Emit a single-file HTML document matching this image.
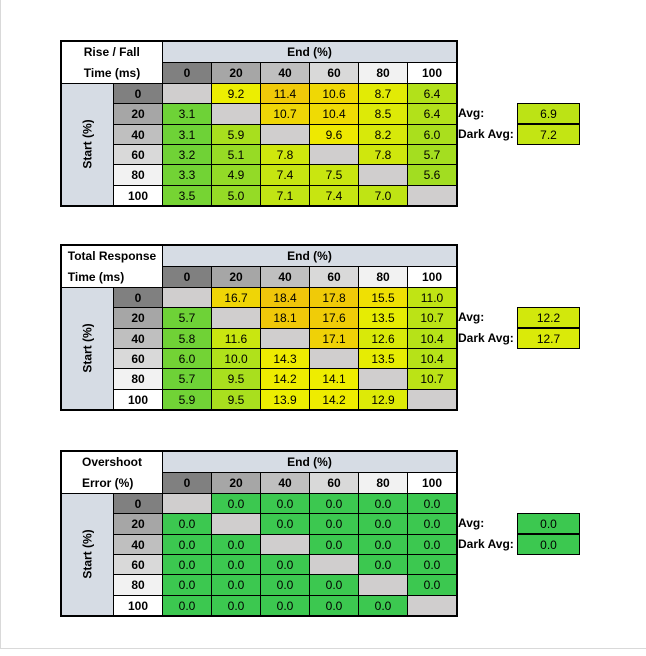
<!DOCTYPE html>
<html><head><meta charset="utf-8">
<style>
body{margin:0;width:646px;height:656px;background:#fff;position:relative;overflow:hidden;font-family:"Liberation Sans",Arial,sans-serif;}
.c{position:absolute;box-sizing:border-box;border:1px solid #000;display:flex;align-items:center;justify-content:center;font-size:12px;color:#000;}
.b{font-weight:bold;}
.frame{position:absolute;box-sizing:border-box;border:2px solid #000;pointer-events:none;}
.lbl{position:absolute;font-size:12px;font-weight:bold;}
</style></head>
<body>
<div style="position:absolute;left:0;top:0;width:646px;height:649px;border-left:1px solid #d9d9d9;border-bottom:1px solid #d9d9d9;box-sizing:border-box"></div>
<script>
const colLabels=["0","20","40","60","80","100"];
const rowLabels=["0","20","40","60","80","100"];
const riseFall=[[null,9.2,11.4,10.6,8.7,6.4],[3.1,null,10.7,10.4,8.5,6.4],[3.1,5.9,null,9.6,8.2,6.0],[3.2,5.1,7.8,null,7.8,5.7],[3.3,4.9,7.4,7.5,null,5.6],[3.5,5.0,7.1,7.4,7.0,null]];
const riseFallAvg=[6.9,7.2];
const totalResp=[[null,16.7,18.4,17.8,15.5,11.0],[5.7,null,18.1,17.6,13.5,10.7],[5.8,11.6,null,17.1,12.6,10.4],[6.0,10.0,14.3,null,13.5,10.4],[5.7,9.5,14.2,14.1,null,10.7],[5.9,9.5,13.9,14.2,12.9,null]];
const totalAvg=[12.2,12.7];
const overshoot=[[null,0,0,0,0,0],[0,null,0,0,0,0],[0,0,null,0,0,0],[0,0,0,null,0,0],[0,0,0,0,null,0],[0,0,0,0,0,null]];
const overshootAvg=[0.0,0.0];
const avgLabels=["Avg:","Dark Avg:"];
const headGrays=["#808080","#a6a6a6","#bfbfbf","#d9d9d9","#f2f2f2","#ffffff"];

function lerp(a,b,t){return a.map((x,i)=>Math.round(x+(b[i]-x)*t));}
function scaleColor(v,lo,mid,hi){
  const g=[110,210,55],y=[238,238,0],o=[240,195,10];
  if(lo===hi) return "rgb(60,200,80)";
  let c;
  if(v<=mid) c=lerp(g,y,Math.max(0,(v-lo)/(mid-lo)));
  else c=lerp(y,o,Math.min(1,(v-mid)/(hi-mid)));
  return "rgb("+c.join(",")+")";
}
function cell(x,y,w,h,txt,bg,bold,name){
  const d=document.createElement('div');
  d.className='c'+(bold?' b':'');
  d.style.cssText+=`left:${x}px;top:${y}px;width:${w+1}px;height:${h+1}px;background:${bg};`;
  d.textContent=txt;
  
  
  document.body.appendChild(d);return d;
}
function table(top,title1,title2,data,avg,lo,mid,hi,prefix){
  const L=61,RH=113,C0=162,CW=49,HH=21,RHt=20.3;
  const dataTop=top+2*HH;
  const t=cell(L,top,RH+49-L-0,2*HH,"","#fff",true,prefix+'-title');
  t.style.flexDirection='column';t.style.lineHeight='21px';
  t.innerHTML=title1+"<br>"+title2;
  cell(C0,top,CW*6,HH,"End (%)","#d6dce4",true,prefix+'-end-header');
  colLabels.forEach((c,i)=>cell(C0+i*CW,top+HH,CW,HH,c,headGrays[i],true,prefix+'-col-'+c));
  const s=cell(L,dataTop,RH-L,RHt*6,"","#d6dce4",true,prefix+'-start-header');
  s.innerHTML='<span style="transform:rotate(-90deg);white-space:nowrap;display:inline-block">Start (%)</span>';
  rowLabels.forEach((r,j)=>{
    const y=Math.round(dataTop+j*RHt),h=Math.round(dataTop+(j+1)*RHt)-y;
    cell(RH,y,C0-RH,h,r,headGrays[j],true,prefix+'-row-'+r);
    data[j].forEach((v,i)=>{
      const bg=v===null?"#d0cece":scaleColor(v,lo,mid,hi);
      cell(C0+i*CW,y,CW,h,v===null?"":v.toFixed(1),bg,false,prefix+'-cell-'+r+'-'+colLabels[i]);
    });
  });
  const f=document.createElement('div');f.className='frame';
  f.style.cssText+=`left:${L-1}px;top:${top-1}px;width:${C0+6*CW-L+3}px;height:${2*HH+6*RHt+3}px;`;
  
  
  document.body.appendChild(f);
  const ay=dataTop+RHt;
  avg.forEach((a,k)=>{
    const y=Math.round(ay+k*RHt);
    const lb=document.createElement('div');lb.className='lbl';
    lb.style.cssText+=`left:458px;top:${y+3}px;`;
    lb.textContent=avgLabels[k];
    
    
    document.body.appendChild(lb);
    cell(517,y,62,20,a.toFixed(1),a===0&&lo===hi?"rgb(60,200,80)":scaleColor(a,lo,mid,hi),false,prefix+'-avg-value-'+k);
  });
}
table(41,"Rise / Fall","Time (ms)",riseFall,riseFallAvg,3.1,9.3,11.8,'rise-fall');
table(245,"Total Response","Time (ms)",totalResp,totalAvg,5.7,14.0,18.6,'total-response');
table(451,"Overshoot","Error (%)",overshoot,overshootAvg,0,0,0,'overshoot');
</script>
</body></html>
